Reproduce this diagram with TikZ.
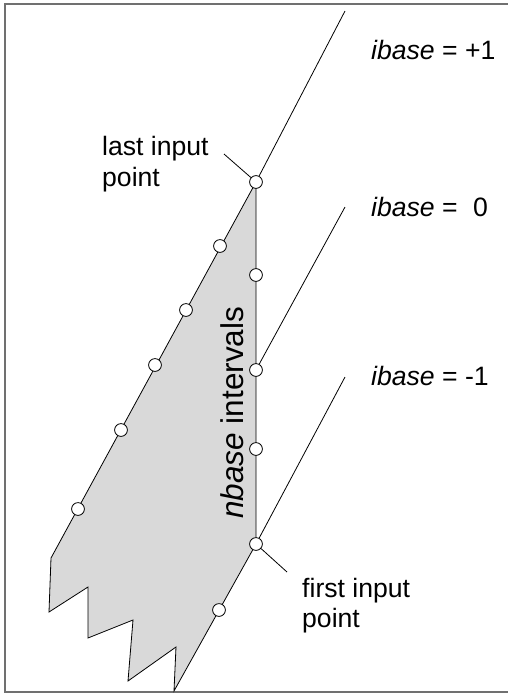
\documentclass[tikz,border=0pt]{standalone}
\usepackage{fontspec}
\setmainfont{Liberation Sans}
\definecolor{shade}{HTML}{D9D9D9}
\definecolor{framegray}{HTML}{707070}
\begin{document}
\begin{tikzpicture}[x=1pt,y=-1pt,
  ipt/.style={circle,draw=black,fill=white,line width=0.8pt,minimum size=12.8pt,inner sep=0pt},
  ln/.style={line width=0.8pt,draw=black},
  lbl/.style={anchor=base west,inner sep=0pt,font=\fontsize{26.6}{31}\selectfont},
]
\useasboundingbox (0,0) rectangle (508,694);
\fill[white] (0,0) rectangle (508,694);
% frame
\draw[framegray,line width=1.6pt] (508,4) -- (5,4) -- (5,692) -- (508,692);
% polygon vertices
\coordinate (p1) at (256,182);
\coordinate (p2) at (51,558);
\coordinate (p3) at (49,612);
\coordinate (p4) at (88,587);
\coordinate (p5) at (88,638);
\coordinate (p6) at (133,620);
\coordinate (p7) at (128,681);
\coordinate (p8) at (176,647);
\coordinate (p9) at (174,691);
\coordinate (p10) at (256,544);
\filldraw[fill=shade,ln] (p1) -- (p2) -- (p3) -- (p4) -- (p5) -- (p6) -- (p7) -- (p8) -- (p9) -- (p10) -- cycle;
% line ends
\coordinate (t1) at (345,11);
\coordinate (t0) at (345,207);
\coordinate (tm) at (345,377);
\coordinate (lastlbl) at (224,154);
\coordinate (firstlbl) at (287,572);
% input points
\node[ipt] (last) at (p1) {};
\node[ipt] (first) at (p10) {};
\node[ipt] (l1) at (220,246) {};
\node[ipt] (l2) at (186,310) {};
\node[ipt] (l3) at (155,365) {};
\node[ipt] (l4) at (121,430) {};
\node[ipt] (l5) at (78,509) {};
\node[ipt] (v1) at (256,275) {};
\node[ipt] (v2) at (256,370) {};
\node[ipt] (v3) at (256,449) {};
\node[ipt] (b1) at (219,610) {};
% lines
\draw[ln] (t1) -- (last);
\draw[ln] (t0) -- (v2);
\draw[ln] (tm) -- (first);
\draw[ln] (lastlbl) -- (last);
\draw[ln] (first) -- (firstlbl);
% labels
\node[lbl] (ip1) at (371,59) {\textit{ibase} = +1};
\node[lbl] (i0) at (371,216) {\textit{ibase} = \hspace{0.3em}0};
\node[lbl] (im1) at (371,385) {\textit{ibase} = -1};
\node[lbl] (lastA) at (102,155) {last input};
\node[lbl] (lastB) at (102,186) {point};
\node[lbl] (firstA) at (302,597) {first input};
\node[lbl] (firstB) at (302,627) {point};
\node[anchor=base west,inner sep=0pt,rotate=90,font=\fontsize{31.5}{36}\selectfont] (nb) at (243,519) {\textit{nbase} intervals};
\end{tikzpicture}
\end{document}
